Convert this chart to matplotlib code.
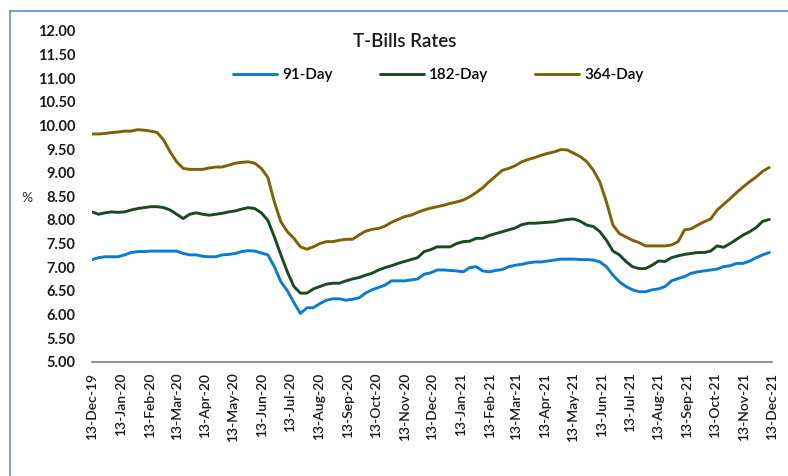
import datetime as dt

import matplotlib
matplotlib.use("Agg")
import matplotlib.dates as mdates
import matplotlib.pyplot as plt
from matplotlib.lines import Line2D

# weekly T-bill rates (%), starting 13-Dec-2019
start_date = dt.date(2019, 12, 13)

rate_91 = [
    7.16, 7.20, 7.22, 7.22, 7.22, 7.26, 7.31, 7.33, 7.33, 7.34, 7.34, 7.34, 7.34, 7.34,
    7.29, 7.26, 7.26, 7.23, 7.22, 7.22, 7.26, 7.27, 7.29, 7.33, 7.35, 7.34, 7.30,
    7.26, 7.01, 6.69, 6.50, 6.25, 6.02, 6.14, 6.14, 6.23, 6.30, 6.33, 6.33, 6.30, 6.32,
    6.35, 6.45, 6.52, 6.57, 6.62, 6.71, 6.71, 6.71, 6.73, 6.75, 6.85, 6.88,
    6.94, 6.94, 6.93, 6.92, 6.90, 6.99, 7.01, 6.92, 6.90, 6.93, 6.95, 7.01, 7.04, 7.06,
    7.09, 7.11, 7.11, 7.13, 7.15, 7.17, 7.17, 7.17, 7.16, 7.16, 7.15, 7.11,
    7.01, 6.83, 6.69, 6.59, 6.52, 6.48, 6.48, 6.52, 6.54, 6.59, 6.71, 6.76, 6.80, 6.87,
    6.90, 6.92, 6.94, 6.96, 7.01, 7.03, 7.08, 7.08, 7.13, 7.20, 7.26, 7.31,
]
rate_182 = [
    8.17, 8.12, 8.15, 8.17, 8.16, 8.17, 8.21, 8.24, 8.26, 8.28, 8.28, 8.26, 8.21, 8.12,
    8.03, 8.12, 8.15, 8.12, 8.10, 8.12, 8.14, 8.17, 8.19, 8.23, 8.26, 8.24, 8.15,
    7.99, 7.64, 7.26, 6.90, 6.59, 6.45, 6.45, 6.54, 6.59, 6.64, 6.66, 6.66, 6.71, 6.75,
    6.78, 6.83, 6.87, 6.94, 6.99, 7.03, 7.08, 7.12, 7.16, 7.20, 7.33, 7.37,
    7.43, 7.43, 7.43, 7.50, 7.54, 7.55, 7.61, 7.61, 7.67, 7.71, 7.75, 7.79, 7.83, 7.90,
    7.93, 7.93, 7.94, 7.95, 7.96, 7.99, 8.01, 8.02, 7.97, 7.89, 7.86, 7.75,
    7.57, 7.34, 7.26, 7.12, 7.01, 6.97, 6.97, 7.04, 7.13, 7.12, 7.20, 7.24, 7.27, 7.29,
    7.31, 7.31, 7.34, 7.45, 7.42, 7.50, 7.59, 7.68, 7.75, 7.84, 7.97, 8.01,
]
rate_364 = [
    9.82, 9.82, 9.83, 9.85, 9.86, 9.88, 9.88, 9.91, 9.90, 9.88, 9.85, 9.69, 9.44, 9.23,
    9.09, 9.07, 9.07, 9.07, 9.10, 9.12, 9.12, 9.16, 9.20, 9.22, 9.23, 9.20, 9.09,
    8.90, 8.38, 7.96, 7.75, 7.61, 7.43, 7.38, 7.43, 7.50, 7.54, 7.54, 7.57, 7.59, 7.59,
    7.68, 7.76, 7.80, 7.82, 7.87, 7.95, 8.01, 8.07, 8.10, 8.16, 8.21, 8.25,
    8.28, 8.31, 8.35, 8.38, 8.42, 8.49, 8.58, 8.68, 8.81, 8.93, 9.05, 9.09, 9.15, 9.23,
    9.28, 9.32, 9.37, 9.41, 9.44, 9.49, 9.48, 9.41, 9.34, 9.23, 9.05, 8.80,
    8.38, 7.89, 7.71, 7.64, 7.57, 7.52, 7.45, 7.45, 7.45, 7.45, 7.47, 7.54, 7.79, 7.81,
    7.89, 7.96, 8.02, 8.21, 8.33, 8.45, 8.58, 8.70, 8.81, 8.91, 9.03, 9.11,
]

series_labels = ["91-Day", "182-Day", "364-Day"]
series_colors = ["#0a7bd2", "#1a4a22", "#806000"]

dates = [start_date + dt.timedelta(days=7 * i) for i in range(len(rate_91))]
tick_dates = [dt.date(2019 + (11 + m) // 12, (11 + m) % 12 + 1, 13) for m in range(25)]

plt.rcParams["font.family"] = ["Lato", "DejaVu Sans"]

fig = plt.figure(figsize=(7.88, 4.76), dpi=100)
ax = fig.add_axes([0.1168, 0.2403, 0.8629, 0.6946])

for values, label, color in zip([rate_91, rate_182, rate_364], series_labels, series_colors):
    ax.plot(dates, values, color=color, lw=2.1, label=label, solid_capstyle="round")

ax.set_ylim(5, 12)
ax.set_yticks([5 + 0.5 * i for i in range(15)])
ax.set_yticklabels([f"{5 + 0.5 * i:.2f}" for i in range(15)], fontsize=10.5,
                   fontweight="bold", color="#1a1a1a")
ax.set_xlim(tick_dates[0], tick_dates[-1])
ax.set_xticks(tick_dates)
ax.xaxis.set_major_formatter(mdates.DateFormatter("%d-%b-%y"))
plt.setp(ax.get_xticklabels(), rotation=90, fontsize=10, color="#1a1a1a", fontweight="semibold")
ax.tick_params(axis="both", length=0)
ax.tick_params(axis="y", pad=12)
ax.tick_params(axis="x", pad=8)

for side in ["top", "right", "left"]:
    ax.spines[side].set_visible(False)
ax.spines["bottom"].set_color("#7f7f7f")
ax.spines["bottom"].set_linewidth(1.2)

fig.text(0.034, 0.585, "%", fontsize=10, color="#333333", ha="center", va="center")
fig.text(0.513, 0.912, "T-Bills Rates", fontsize=13.5, fontweight="semibold",
         color="#1a1a1a", ha="center", va="center")

fig.legend(loc="center", bbox_to_anchor=(0.556, 0.842), ncol=3, frameon=False,
           handlelength=2.9, columnspacing=3.1, handletextpad=0.3,
           prop={"size": 11, "weight": "semibold"})

# frame lines on the left and top of the picture
fig.add_artist(Line2D([0.0127, 0.0127], [0.0, 0.977], color="#5b8bd0", lw=1.2))
fig.add_artist(Line2D([0.0127, 1.0], [0.977, 0.977], color="#5b8bd0", lw=1.2))

fig.savefig("out.png", dpi=100)
plt.close(fig)
